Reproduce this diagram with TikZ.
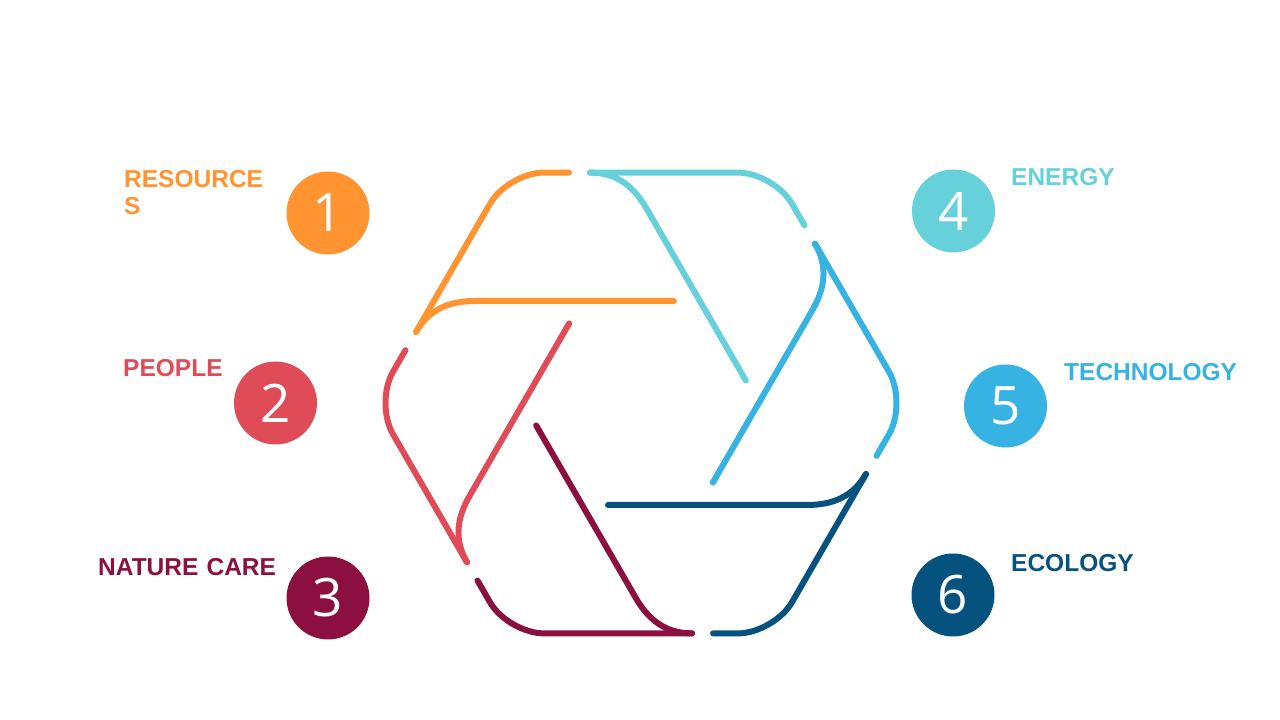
\documentclass[tikz,border=0pt]{standalone}
\usepackage{fontspec}
\setmainfont{Liberation Sans}
\newfontfamily\numfont{Open Sans}
\usetikzlibrary{positioning}
\definecolor{resorange}{HTML}{FF9430}
\definecolor{peoplered}{HTML}{E04B58}
\definecolor{naturemaroon}{HTML}{8B1040}
\definecolor{energycyan}{HTML}{66D1DB}
\definecolor{techblue}{HTML}{36B2E3}
\definecolor{ecoblue}{HTML}{06527E}

% one blade of the shutter, turned by #2 around the hexagon centre
\newcommand{\blade}[2]{%
  \begin{scope}[shift={(641,317)}, rotate=#2]
    \draw[bladeline, #1, rounded corners=36pt] (-72,230.4) -- (-133,230.4) -- (-225,71);
    \draw[bladeline, #1] (-225,71) to[out=60, in=180] (-166,102) -- (33,102);
  \end{scope}}

\begin{document}
\begin{tikzpicture}[x=1pt, y=1pt,
    bladeline/.style={line width=6pt, line cap=round, line join=round},
    numdot/.style={circle, minimum size=83pt, inner sep=0pt, text=white, font=\numfont\fontsize{53}{60}\selectfont},
    caption/.style={anchor=base west, inner sep=0pt, font=\bfseries\fontsize{24.5}{27}\selectfont}]
        \useasboundingbox (0,0) rectangle (1280,720);
        \blade{resorange}{0}
        \blade{energycyan}{-60}
        \blade{techblue}{-120}
        \blade{ecoblue}{-180}
        \blade{naturemaroon}{-240}
        \blade{peoplered}{-300}
        \node[numdot, fill=resorange] (c1) at (328,507) {1};
        \node[numdot, fill=peoplered] (c2) at (275.5,317) {2};
        \node[numdot, fill=naturemaroon] (c3) at (328,122) {3};
        \node[numdot, fill=energycyan] (c4) at (953.5,509) {4};
        \node[numdot, fill=techblue] (c5) at (1005.5,314) {5};
        \node[numdot, fill=ecoblue] (c6) at (953,125) {6};
        \node[caption, text=resorange, align=left] (t1) at (124,505) {RESOURCE\\S};
        \node[caption, text=peoplered] (t2) at (123,343) {PEOPLE};
        \node[caption, text=naturemaroon] (t3) at (98,144) {NATURE\,\,CARE};
        \node[caption, text=energycyan] (t4) at (1011,534) {ENERGY};
        \node[caption, text=techblue] (t5) at (1064,339) {TECHNOLOGY};
        \node[caption, text=ecoblue] (t6) at (1011,148) {ECOLOGY};
\end{tikzpicture}
\end{document}
